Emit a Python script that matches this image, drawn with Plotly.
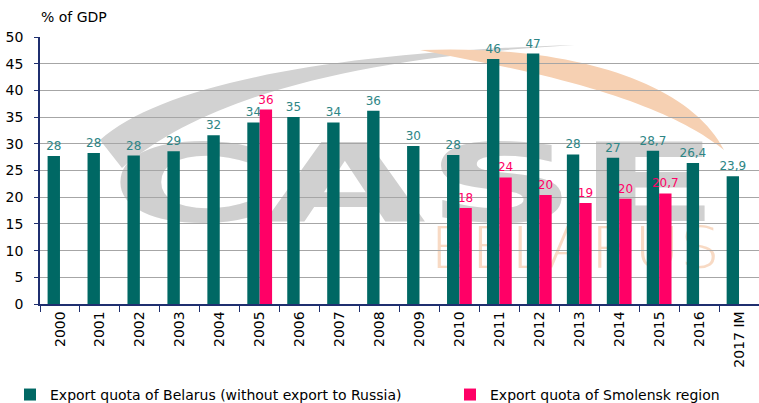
import base64
import plotly.graph_objects as go

categories = ["2000", "2001", "2002", "2003", "2004", "2005", "2006", "2007", "2008",
              "2009", "2010", "2011", "2012", "2013", "2014", "2015", "2016", "2017 IM"]
belarus = [27.7, 28.3, 27.8, 28.6, 31.6, 34.0, 35.0, 34.0, 36.2, 29.6, 27.9, 45.9,
           46.9, 28.0, 27.4, 28.7, 26.4, 23.9]
belarus_labels = ["28", "28", "28", "29", "32", "34", "35", "34", "36", "30", "28", "46",
                  "47", "28", "27", "28,7", "26,4", "23,9"]
smolensk = [None, None, None, None, None, 36.4, None, None, None, None, 18.0, 23.7,
            20.4, 18.9, 19.7, 20.7, None, None]
smolensk_labels = ["", "", "", "", "", "36", "", "", "", "", "18", "24", "20", "19",
                   "20", "20,7", "", ""]

TEAL = "#006864"
PINK = "#FF0066"
FONT = "DejaVu Sans"

W, H = 759, 403
ML, MR, MT, MB = 40, 0, 37, 99
PW, PH = W - ML - MR, H - MT - MB

# faint "CASE BELARUS" watermark drawn behind the chart (pixel coordinates of the page)
svg = f'''<svg xmlns="http://www.w3.org/2000/svg" width="{W}" height="{H}" viewBox="0 0 {W} {H}">
<path d="M 100 140 C 165 82 340 52 575 45 C 385 56 215 88 122 168 Z" fill="#D2D2D2"/>
<path d="M 420 50 C 570 44 690 82 724 150 C 690 122 620 88 470 60 Z" fill="#F6D0B2"/>
<text x="110" y="221" font-family="DejaVu Sans" font-weight="bold" font-size="108"
 textLength="610" lengthAdjust="spacingAndGlyphs" fill="#D0D0D0">CASE</text>
<text x="430" y="268" font-family="DejaVu Sans" font-weight="200" font-size="57"
 textLength="290" lengthAdjust="spacingAndGlyphs" fill="#F8DAC4">BELARUS</text>
</svg>'''
svg_uri = "data:image/svg+xml;base64," + base64.b64encode(svg.encode()).decode()

fig = go.Figure()
fig.add_trace(go.Bar(
    x=categories, y=belarus, name="Export quota of Belarus (without export to Russia)",
    marker=dict(color=TEAL, line=dict(width=0)),
    text=belarus_labels, textposition="outside", cliponaxis=False, constraintext="none",
    textfont=dict(color="#2E8585", size=12, family=FONT), legend="legend",
))
fig.add_trace(go.Bar(
    x=categories, y=smolensk, name="Export quota of Smolensk region",
    marker=dict(color=PINK, line=dict(width=0)),
    text=smolensk_labels, textposition="outside", cliponaxis=False, constraintext="none",
    textfont=dict(color=PINK, size=12, family=FONT), legend="legend2",
))

legend_common = dict(orientation="h", xref="container", yref="container",
                     xanchor="left", y=0.02, yanchor="middle",
                     font=dict(size=14, family=FONT, color="black"),
                     itemwidth=30, bgcolor="rgba(0,0,0,0)")

fig.update_layout(
    width=W, height=H,
    margin=dict(l=ML, r=MR, t=MT, b=MB, autoexpand=False),
    paper_bgcolor="white", plot_bgcolor="rgba(0,0,0,0)",
    barmode="group", bargap=0.38, bargroupgap=0,
    font=dict(family=FONT, color="black", size=13),
    showlegend=True,
    legend=dict(x=10 / W, **legend_common),
    legend2=dict(x=450 / W, **legend_common),
    images=[dict(source=svg_uri, xref="paper", yref="paper",
                 x=-ML / PW, y=1 + MT / PH, sizex=W / PW, sizey=H / PH,
                 xanchor="left", yanchor="top", sizing="stretch", layer="below")],
    annotations=[dict(text="% of GDP", xref="paper", yref="paper", x=-0.002, y=1.075,
                      xanchor="left", yanchor="middle", showarrow=False,
                      font=dict(size=14, family=FONT, color="black"))],
)
fig.update_xaxes(
    type="category", showgrid=False, showline=True, linecolor="#1F2F6F", linewidth=1.5,
    ticks="outside", ticklen=6, tickcolor="#1F2F6F", tickson="boundaries",
    tickangle=-90, tickfont=dict(size=14, family=FONT, color="black"),
)
fig.update_yaxes(
    range=[0, 50], dtick=5, showgrid=True, gridcolor="#A6A6A6", gridwidth=1,
    showline=True, linecolor="#1F2F6F", linewidth=1.5, ticks="outside", ticklen=4,
    tickcolor="#1F2F6F", tickfont=dict(size=14, family=FONT, color="black"),
    ticklabelstandoff=8, zeroline=False,
)

fig.write_html("out.html", config={"displayModeBar": False},
               post_script="document.body.style.margin='0';")
